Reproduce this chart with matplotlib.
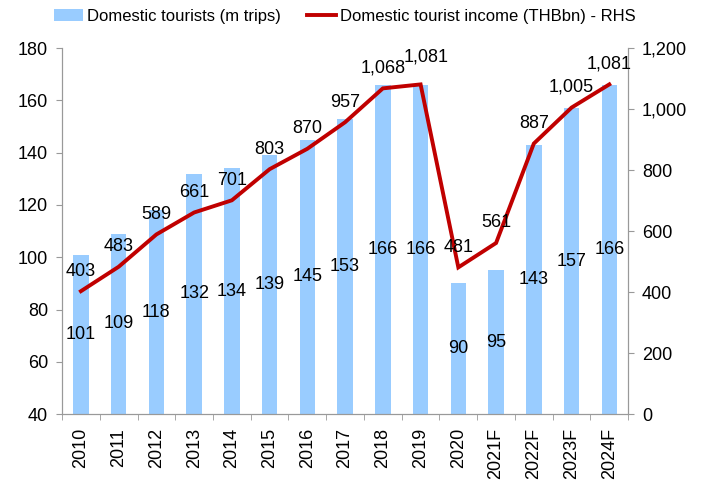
import matplotlib.pyplot as plt
import numpy as np

plt.rcParams['font.family'] = ['Liberation Sans', 'DejaVu Sans']

years = ['2010', '2011', '2012', '2013', '2014', '2015', '2016', '2017',
         '2018', '2019', '2020', '2021F', '2022F', '2023F', '2024F']
tourists = [101, 109, 118, 132, 134, 139, 145, 153, 166, 166, 90, 95, 143, 157, 166]
income = [403, 483, 589, 661, 701, 803, 870, 957, 1068, 1081, 481, 561, 887, 1005, 1081]

bar_color = '#99CCFF'
line_color = '#C00000'
grey = '#999999'
fs = 13

fig = plt.figure(figsize=(7.09, 4.86), dpi=100)
ax = fig.add_axes([0.0875, 0.148, 0.7985, 0.753])
ax2 = ax.twinx()

x = np.arange(len(years))
bars = ax.bar(x, [t - 40 for t in tourists], bottom=40, width=0.41, color=bar_color,
              label='Domestic tourists (m trips)', zorder=1)
line, = ax2.plot(x, income, color=line_color, lw=2.8, solid_joinstyle='miter',
                 label='Domestic tourist income (THBbn) - RHS', zorder=3)

for xi, t in zip(x, tourists):
    ax.text(xi, (40 + t) / 2, str(t), ha='center', va='center', fontsize=fs, zorder=4)
for i, (xi, v) in enumerate(zip(x, income)):
    # 2019 label sits a bit higher/right so it doesn't sit on 2018's
    off = (4, 19.5) if years[i] == '2019' else (0, 14.5)
    ax2.annotate(f'{v:,}', (xi, v), xytext=off, textcoords='offset points',
                 ha='center', va='center', fontsize=fs)

ax.set_xlim(-0.5, len(years) - 0.5)
ax.set_ylim(40, 180)
ax.set_yticks(range(40, 181, 20))
ax2.set_ylim(0, 1200)
ax2.set_yticks(range(0, 1201, 200))
ax2.set_yticklabels([f'{v:,}' for v in range(0, 1201, 200)])

ax.set_xticks(x)
ax.set_xticklabels(years, rotation=90, fontsize=fs)
ax.set_xticks(np.arange(-0.5, len(years), 1), minor=True)
ax.tick_params(axis='x', which='major', length=0, pad=10)
ax.tick_params(axis='x', which='minor', length=4, color=grey, direction='out')
ax.tick_params(axis='y', length=4, color=grey, labelsize=fs, pad=6)
ax2.tick_params(axis='y', length=4, color=grey, labelsize=fs, pad=6)

for a in (ax, ax2):
    a.spines['top'].set_visible(False)
    for s in ('left', 'right', 'bottom'):
        a.spines[s].set_color(grey)

fig.legend(handles=[bars, line], loc='upper left', bbox_to_anchor=(54 / 709, 0.982),
           ncol=2, frameon=False, fontsize=12, handlelength=1.75, handletextpad=0.25,
           columnspacing=1.55, borderpad=0, borderaxespad=0)

fig.savefig('out.png', dpi=100)
